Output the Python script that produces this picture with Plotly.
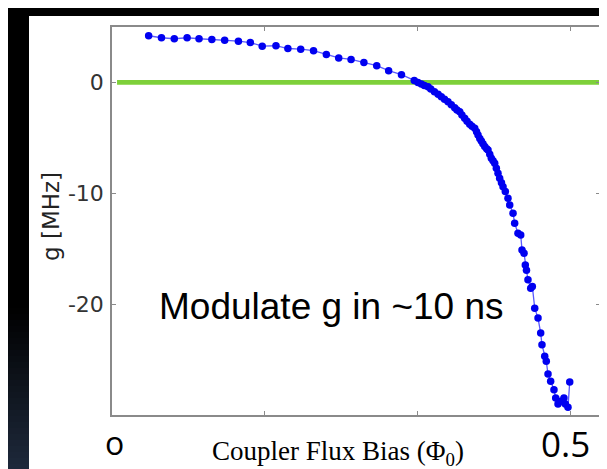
import plotly.graph_objects as go

# ---- data ----
flux_bias = [0.040, 0.054, 0.068, 0.082, 0.095, 0.109, 0.123, 0.138, 0.151, 0.164,
             0.179, 0.192, 0.206, 0.220, 0.234, 0.2475, 0.261, 0.275, 0.289, 0.302,
             0.316, 0.330, 0.334, 0.3377, 0.341, 0.345, 0.348, 0.352, 0.356, 0.3595,
             0.363, 0.3668, 0.3704, 0.3741, 0.3766, 0.3796, 0.382, 0.385, 0.3876, 0.3905,
             0.393, 0.396, 0.398, 0.3996, 0.4015, 0.4032, 0.405, 0.4069, 0.409, 0.4105,
             0.4124, 0.4141, 0.416, 0.4178, 0.4196, 0.4214, 0.4232, 0.4252, 0.4269, 0.4294,
             0.4323, 0.4342, 0.4378, 0.4396, 0.4432, 0.4462, 0.4476, 0.4498, 0.4512, 0.4525,
             0.4541, 0.4571, 0.4589, 0.4615, 0.4651, 0.468, 0.4694, 0.4724, 0.4741, 0.476,
             0.4789, 0.4825, 0.4844, 0.4869, 0.4898, 0.4934, 0.4949, 0.4978, 0.4997]
g_mhz = [4.21, 4.03, 3.94, 4.03, 3.94, 3.87, 3.81, 3.72, 3.60, 3.27,
         3.31, 3.06, 3.00, 2.86, 2.52, 2.21, 2.07, 1.80, 1.51, 1.06,
         0.70, 0.18, 0.0, -0.15, -0.27, -0.39, -0.59, -0.84, -1.06, -1.29,
         -1.51, -1.74, -2.01, -2.28, -2.48, -2.64, -2.93, -3.24, -3.51, -3.78,
         -3.96, -4.14, -4.46, -4.75, -5.05, -5.29, -5.54, -5.79, -5.99, -6.10,
         -6.49, -6.85, -7.07, -7.30, -7.75, -8.20, -8.65, -9.05, -9.40, -9.85,
         -10.45, -11.05, -11.80, -12.70, -13.60, -13.76, -15.11, -15.41, -16.46, -16.94,
         -17.81, -18.56, -18.41, -20.36, -21.26, -22.61, -23.67, -24.71, -25.16, -26.31,
         -26.96, -27.72, -28.47, -29.01, -28.77, -28.47, -29.01, -29.31, -27.03]
zero_line_x = [0.0055, 0.5317]
zero_line_y = [0, 0]
y_tick_vals = [0, -10, -20]
y_tick_text = ["0", "-10", "-20"]
x_tick_vals = [1 / 6, 1 / 3, 0.5]
x_end_labels = ["o", "0.5"]

W, H = 607, 469
L, R, T, B = 104, 592, 19, 407


def px(x):
    return (x - L) / (R - L)


def py(y):
    return (B - y) / (B - T)


fig = go.Figure()
fig.add_trace(go.Scatter(x=zero_line_x, y=zero_line_y, mode="lines",
                         line=dict(color="rgb(126,208,58)", width=4.8),
                         hoverinfo="skip", showlegend=False))
fig.add_trace(go.Scatter(x=flux_bias, y=g_mhz, mode="lines+markers",
                         line=dict(color="rgb(90,90,255)", width=1.3),
                         marker=dict(color="rgb(0,0,240)", size=7.5),
                         showlegend=False))

shapes = [dict(type="rect", xref="paper", yref="paper", layer="below",
               x0=px(21), x1=px(620), y0=py(480), y1=py(8),
               fillcolor="white", line=dict(width=0))]
# left dark strip gradient (black -> dark navy towards bottom)
top_c = (0, 0, 0)
bot_c = (31, 43, 62)
start, end, step = 300, 469, 6
yy = start
while yy < end:
    t = (yy + step / 2 - start) / (end - start)
    c = tuple(int(round(a + (b - a) * t)) for a, b in zip(top_c, bot_c))
    shapes.append(dict(type="rect", xref="paper", yref="paper", layer="below",
                       x0=px(-5), x1=px(21), y0=py(yy + step + 0.5), y1=py(yy),
                       fillcolor="rgb(%d,%d,%d)" % c, line=dict(width=0)))
    yy += step

annotations = [
    dict(text="Modulate g in ~10 ns", xref="paper", yref="paper",
         x=px(323), y=py(298), xanchor="center", yanchor="middle", showarrow=False,
         font=dict(family="Liberation Sans, Arial", size=37, color="black")),
    dict(text="g [MHz]", xref="paper", yref="paper", textangle=-90,
         x=px(43), y=py(209), xanchor="center", yanchor="middle", showarrow=False,
         font=dict(family="DejaVu Sans", size=23, color="#222")),
    dict(text="Coupler Flux Bias (Φ<sub>0</sub>)", xref="paper", yref="paper",
         x=px(330), y=py(445), xanchor="center", yanchor="middle", showarrow=False,
         font=dict(family="Liberation Serif, Times New Roman", size=27, color="black")),
    dict(text=x_end_labels[0], xref="paper", yref="paper",
         x=px(106), y=py(434), xanchor="center", yanchor="middle", showarrow=False,
         font=dict(family="Open Sans", size=32, color="black")),
    dict(text=x_end_labels[1], xref="paper", yref="paper",
         x=px(557), y=py(435), xanchor="center", yanchor="middle", showarrow=False,
         font=dict(family="Open Sans", size=35, color="black")),
]

axis_common = dict(showline=True, linecolor="#8a8a8a", linewidth=1.5, mirror="ticks",
                   ticks="inside", ticklen=4, tickcolor="#8a8a8a", tickwidth=1,
                   showgrid=False, zeroline=False)

fig.update_layout(
    width=W, height=H,
    margin=dict(l=L, r=W - R, t=T, b=H - B),
    paper_bgcolor="black", plot_bgcolor="white",
    shapes=shapes, annotations=annotations,
    xaxis=dict(range=[0, 0.5 * (R - L) / (562 - L)], tickvals=x_tick_vals,
               showticklabels=False, **axis_common),
    yaxis=dict(range=[-30, 5], tickvals=y_tick_vals, ticktext=y_tick_text,
               tickfont=dict(family="DejaVu Sans", size=22, color="#333"),
               ticklabelstandoff=2, **axis_common),
)

fig.write_html("out.html")
